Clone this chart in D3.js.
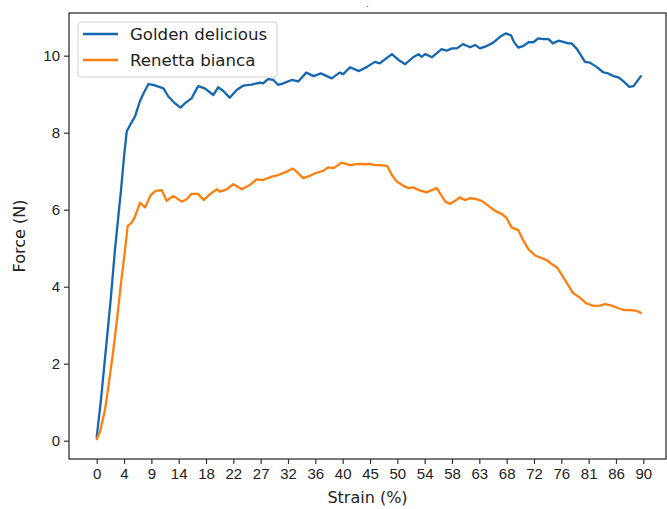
<!DOCTYPE html>
<html>
<head>
<meta charset="utf-8">
<script src="https://cdn.jsdelivr.net/npm/d3@7"></script>
<style>
  html, body { margin: 0; padding: 0; background: #fff; }
  svg { display: block; font-family: "DejaVu Sans", sans-serif; }
</style>
</head>
<body>
<svg id="chart" width="667" height="509"></svg>
<script>
// Compression test: force vs strain for two apple varieties
const seriesNames = ["Golden delicious", "Renetta bianca"];
const seriesColors = ["#1467b0", "#ff7f0e"];

const strainGolden = [0, 0.7, 1.5, 2.3, 3.0, 4.0, 4.55, 4.94, 5.5, 6.3,
  7.1, 7.7, 8.5, 9.3, 11.0, 11.8, 12.9, 13.8, 14.5, 15.6,
  16.7, 17.8, 19.2, 20.0, 20.8, 21.9, 23.05, 24.1, 25.5, 26.9,
  27.4, 28.2, 29.1, 29.9, 30.7, 32.1, 33.2, 34.5, 35.7, 36.9,
  38.7, 40.0, 40.6, 41.7, 43.2, 44.5, 45.8, 46.6, 48.6, 49.7,
  50.8, 52.1, 53.0, 53.5, 54.1, 55.2, 56.8, 57.6, 58.5, 59.3,
  60.3, 61.5, 62.3, 63.1, 64.2, 65.3, 66.4, 67.4, 68.2, 68.7,
  69.4, 70.2, 71.1, 71.9, 72.7, 73.5, 74.4, 75.1, 76.0, 76.8,
  77.7, 78.2, 79.1, 80.4, 81.2, 82.3, 83.4, 84.2, 85.1, 85.9,
  86.7, 87.7, 88.4, 88.9, 89.6];
const forceGolden = [0.09, 1.06, 2.36, 3.66, 4.95, 6.51, 7.46, 8.03, 8.2, 8.42,
  8.81, 9.02, 9.26, 9.24, 9.15, 8.94, 8.76, 8.65, 8.76, 8.89,
  9.21, 9.15, 8.98, 9.18, 9.09, 8.91, 9.11, 9.22, 9.25, 9.3,
  9.28, 9.39, 9.37, 9.24, 9.28, 9.37, 9.33, 9.56, 9.47, 9.54,
  9.41, 9.56, 9.52, 9.70, 9.60, 9.71, 9.84, 9.80, 10.04, 9.89,
  9.78, 9.96, 10.04, 9.97, 10.04, 9.96, 10.17, 10.13, 10.19, 10.19,
  10.30, 10.22, 10.28, 10.19, 10.25, 10.34, 10.49, 10.58, 10.53, 10.36,
  10.21, 10.25, 10.35, 10.35, 10.45, 10.43, 10.43, 10.32, 10.39, 10.36,
  10.32, 10.32, 10.17, 9.84, 9.82, 9.71, 9.57, 9.54, 9.47, 9.44,
  9.34, 9.19, 9.21, 9.32, 9.47];

const strainRenetta = [0, 0.54, 1.37, 2.0, 2.74, 3.4, 4.0, 4.66, 5.1, 5.76,
  6.3, 7.13, 7.95, 8.9, 9.7, 10.7, 11.5, 12.6, 14.0, 14.8,
  15.6, 16.7, 17.6, 18.7, 19.8, 20.3, 21.4, 22.5, 23.9, 25.2,
  26.3, 27.4, 28.8, 29.9, 31.3, 32.3, 32.9, 34.0, 35.1, 36.2,
  37.3, 38.1, 39.0, 40.3, 41.7, 43.1, 44.2, 45.0, 45.8, 46.6,
  47.8, 48.6, 49.4, 50.5, 51.3, 52.1, 53.0, 54.3, 55.2, 56.0,
  56.5, 57.4, 58.2, 59.0, 59.8, 60.6, 61.5, 62.3, 63.4, 64.5,
  65.6, 66.7, 67.5, 68.3, 69.4, 70.2, 71.1, 72.2, 73.3, 74.1,
  74.9, 75.8, 76.6, 77.4, 78.4, 79.5, 80.6, 81.8, 82.9, 83.7,
  84.8, 85.9, 86.9, 88.0, 88.9, 89.6];
const forceRenetta = [0.04, 0.23, 0.80, 1.49, 2.36, 3.22, 4.09, 4.95, 5.58, 5.66,
  5.82, 6.18, 6.06, 6.38, 6.49, 6.51, 6.23, 6.36, 6.21, 6.27,
  6.41, 6.41, 6.25, 6.41, 6.53, 6.47, 6.53, 6.66, 6.53, 6.64,
  6.79, 6.77, 6.86, 6.90, 6.99, 7.07, 6.99, 6.82, 6.88, 6.96,
  7.01, 7.10, 7.08, 7.22, 7.16, 7.19, 7.18, 7.19, 7.16, 7.16,
  7.14, 6.90, 6.73, 6.62, 6.56, 6.58, 6.51, 6.45, 6.51, 6.56,
  6.43, 6.21, 6.15, 6.23, 6.32, 6.25, 6.30, 6.28, 6.23, 6.10,
  5.97, 5.89, 5.78, 5.54, 5.47, 5.21, 4.97, 4.81, 4.74, 4.69,
  4.59, 4.50, 4.30, 4.10, 3.84, 3.72, 3.57, 3.50, 3.51, 3.55,
  3.51, 3.44, 3.39, 3.39, 3.37, 3.32];

const xTickLabels = ["0", "4", "9", "14", "18", "22", "27", "32", "36", "40", "45",
  "50", "54", "58", "63", "68", "72", "76", "81", "86", "90"];
const xTickStep = 4.5;
const yTicks = [0, 2, 4, 6, 8, 10];

const svg = d3.select("#chart");

// plot frame
const frame = { left: 69, top: 13, right: 666, bottom: 459 };

const x = d3.scaleLinear().domain([0, 90]).range([96.7, 643.3]);
const y = d3.scaleLinear().domain([0, 10]).range([440.7, 55.7]);

// series
const series = [
  { name: seriesNames[0], color: seriesColors[0], xs: strainGolden, ys: forceGolden },
  { name: seriesNames[1], color: seriesColors[1], xs: strainRenetta, ys: forceRenetta }
];

const line = d3.line()
  .x(d => x(d[0]))
  .y(d => y(d[1]))
  .curve(d3.curveLinear);

svg.append("g").selectAll("path")
  .data(series)
  .join("path")
  .attr("d", s => line(s.xs.map((v, i) => [v, s.ys[i]])))
  .attr("fill", "none")
  .attr("stroke", s => s.color)
  .attr("stroke-width", 2.3)
  .attr("stroke-linejoin", "round")
  .attr("stroke-linecap", "round");

// axes
const xTickValues = xTickLabels.map((_, i) => i * xTickStep);
const xAxis = d3.axisBottom(x)
  .tickValues(xTickValues)
  .tickFormat((d, i) => xTickLabels[i])
  .tickSize(5)
  .tickPadding(4)
  .tickSizeOuter(0);
const gx = svg.append("g")
  .attr("transform", `translate(0,${frame.bottom})`)
  .call(xAxis);

const yAxis = d3.axisLeft(y)
  .tickValues(yTicks)
  .tickFormat(d3.format("d"))
  .tickSize(5)
  .tickPadding(4)
  .tickSizeOuter(0);
const gy = svg.append("g")
  .attr("transform", `translate(${frame.left},0)`)
  .call(yAxis);

[gx, gy].forEach(g => {
  g.select(".domain").remove();
  g.selectAll(".tick line").attr("stroke", "#333").attr("stroke-width", 1.2);
  g.selectAll(".tick text").attr("fill", "#222").style("font-size", "15px");
});

// spines
svg.append("rect")
  .attr("x", frame.left).attr("y", frame.top)
  .attr("width", frame.right - frame.left)
  .attr("height", frame.bottom - frame.top)
  .attr("fill", "none")
  .attr("stroke", "#333")
  .attr("stroke-width", 1.3);

// axis labels
svg.append("text")
  .attr("x", (frame.left + frame.right) / 2)
  .attr("y", 503)
  .attr("text-anchor", "middle")
  .attr("fill", "#222")
  .style("font-size", "16px")
  .text("Strain (%)");

svg.append("text")
  .attr("transform", `translate(25,${(frame.top + frame.bottom) / 2}) rotate(-90)`)
  .attr("text-anchor", "middle")
  .attr("fill", "#222")
  .style("font-size", "16px")
  .text("Force (N)");

// title
svg.append("text")
  .attr("x", (frame.left + frame.right) / 2)
  .attr("y", 7)
  .attr("text-anchor", "middle")
  .attr("fill", "#222")
  .style("font-size", "8px")
  .text(".");

// legend
const legend = svg.append("g").attr("transform", "translate(78,22)");
legend.append("rect")
  .attr("width", 199).attr("height", 55)
  .attr("rx", 3).attr("ry", 3)
  .attr("fill", "#fff").attr("fill-opacity", 0.8)
  .attr("stroke", "#d0d0d0").attr("stroke-width", 1);

const items = legend.selectAll("g.item")
  .data(series)
  .join("g")
  .attr("class", "item")
  .attr("transform", (d, i) => `translate(0,${12 + i * 26})`);
items.append("line")
  .attr("x1", 5).attr("x2", 40)
  .attr("stroke", d => d.color)
  .attr("stroke-width", 2.3);
items.append("text")
  .attr("x", 52).attr("dy", "0.35em")
  .attr("fill", "#222")
  .style("font-size", "16.6px")
  .text(d => d.name);
</script>
</body>
</html>
